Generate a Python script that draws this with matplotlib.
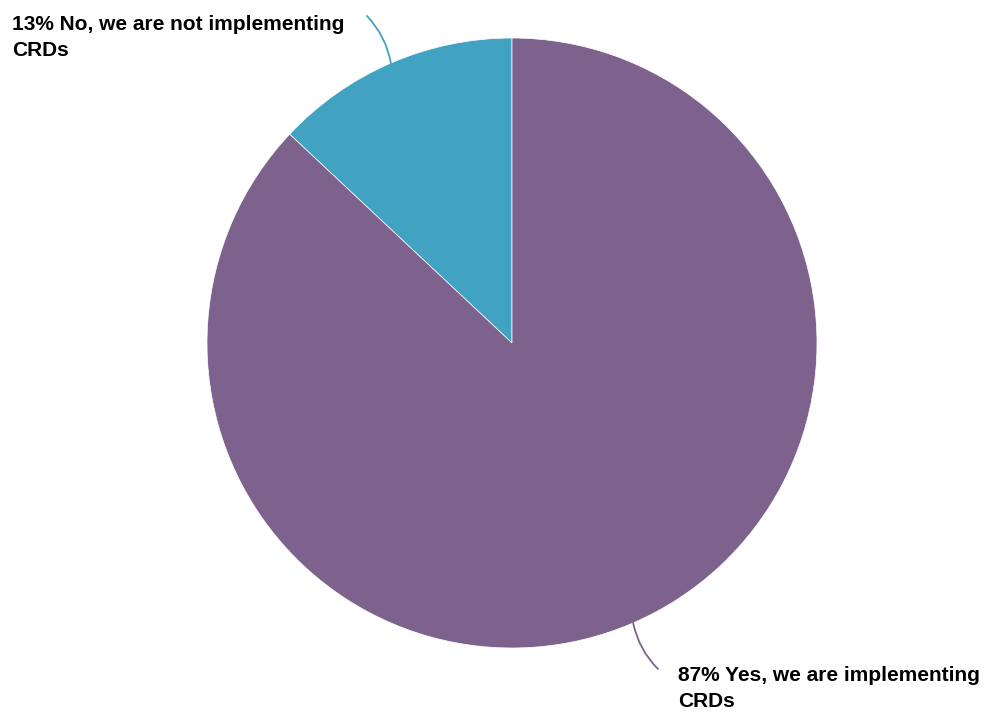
import numpy as np
import matplotlib.pyplot as plt

labels = ['No, we are not implementing\nCRDs', 'Yes, we are implementing\nCRDs']
values = [13, 87]
colors = ['#41A2C2', '#7E628E']

plt.rcParams['font.family'] = ['Liberation Sans', 'DejaVu Sans']

fig = plt.figure(figsize=(9.92, 7.13), dpi=100)
ax = fig.add_axes([0, 0, 1, 1])

cx, cy, r = 512, 370, 305
wedges, _ = ax.pie(values, colors=colors, startangle=90, counterclock=True,
                   center=(cx, cy), radius=r, frame=True,
                   wedgeprops=dict(edgecolor='white', linewidth=0.5))
ax.set_xlim(0, 992)
ax.set_ylim(0, 713)
ax.set_aspect('equal')
ax.axis('off')

# label positions (text anchor, leader end, curvature)
text_xy = [(12, 698), (678, 47)]
line_end = [(367, 697), (658, 44)]
rads = [-0.15, -0.15]

for w, lab, v, c, txy, lend, rad in zip(wedges, labels, values, colors,
                                        text_xy, line_end, rads):
    ang = np.deg2rad((w.theta1 + w.theta2) / 2)
    px, py = cx + r * np.cos(ang), cy + r * np.sin(ang)
    ax.annotate('', xy=(px, py), xytext=lend,
                arrowprops=dict(arrowstyle='-', color=c, lw=1.3,
                                shrinkA=0, shrinkB=0,
                                connectionstyle=f'arc3,rad={rad}'))
    ax.text(txy[0], txy[1], f'{v}% {lab}', fontsize=15, fontweight='bold',
            ha='left', va='top', linespacing=1.45, color='black')

fig.savefig('out.png', dpi=100)
